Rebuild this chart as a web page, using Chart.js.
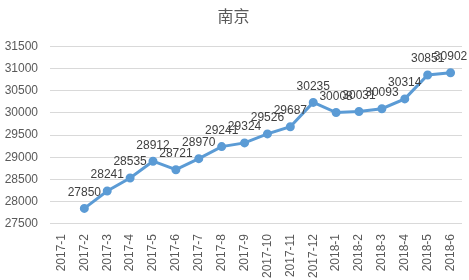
<!DOCTYPE html>
<html><head><meta charset="utf-8">
<script src="https://cdn.jsdelivr.net/npm/chart.js@4"></script>
<style>html,body{margin:0;padding:0;background:#fff}#c{display:block}</style>
</head><body>
<canvas id="c" width="469" height="280"></canvas>
<script>
const title = "南京";
const categories = ["2017-1","2017-2","2017-3","2017-4","2017-5","2017-6","2017-7","2017-8","2017-9","2017-10","2017-11","2017-12","2018-1","2018-2","2018-3","2018-4","2018-5","2018-6"];
const values = [null,27850,28241,28535,28912,28721,28970,29241,29324,29526,29687,30235,30008,30031,30093,30314,30851,30902];
const yMin = 27500, yMax = 31500, yStep = 500;

const labelPlugin = {
  id: 'valueLabels',
  afterDatasetsDraw(chart) {
    const ctx = chart.ctx;
    const meta = chart.getDatasetMeta(0);
    ctx.save();
    ctx.font = '12px "Liberation Sans", Arial, sans-serif';
    ctx.fillStyle = '#404040';
    ctx.textAlign = 'center';
    ctx.textBaseline = 'bottom';
    meta.data.forEach((pt, i) => {
      const v = values[i];
      if (v == null) return;
      ctx.fillText(String(v), pt.x, pt.y - 10);
    });
    ctx.restore();
  }
};

new Chart(document.getElementById('c'), {
  type: 'line',
  data: {
    labels: categories,
    datasets: [{
      data: values,
      borderColor: '#5b9bd5',
      backgroundColor: '#5b9bd5',
      borderWidth: 3,
      pointRadius: 3,
      pointBackgroundColor: '#5b9bd5',
      pointBorderColor: '#5b9bd5',
      tension: 0,
      spanGaps: false
    }]
  },
  options: {
    responsive: false,
    animation: false,
    devicePixelRatio: 1,
    layout: { padding: { left: 4, right: 6, top: 0, bottom: 0 } },
    plugins: {
      legend: { display: false },
      tooltip: { enabled: false },
      title: {
        display: true, text: title, color: '#595959',
        font: { family: '"Noto Sans CJK SC", sans-serif', size: 16, weight: 'normal' },
        padding: { top: 6, bottom: 21 }
      }
    },
    scales: {
      x: {
        offset: true,
        grid: { display: false },
        border: { display: false },
        ticks: {
          color: '#595959', maxRotation: 90, minRotation: 90, autoSkip: false,
          font: { family: '"Liberation Sans", Arial, sans-serif', size: 12 }, padding: 2
        }
      },
      y: {
        min: yMin, max: yMax,
        grid: { color: '#d9d9d9', drawTicks: false, lineWidth: 1 },
        border: { display: false },
        afterFit: (s) => { s.width = 46; },
        ticks: {
          stepSize: yStep, color: '#595959', padding: 12,
          font: { family: '"Liberation Sans", Arial, sans-serif', size: 12 },
          callback: (v) => String(v)
        }
      }
    }
  },
  plugins: [labelPlugin]
});
</script>
</body></html>
